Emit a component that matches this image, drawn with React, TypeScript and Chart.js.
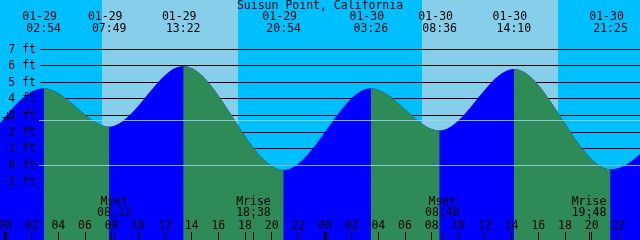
import React, { useEffect, useRef } from 'react';
import { Chart, registerables } from 'chart.js';

Chart.register(...registerables);

const chartTitle = 'Suisun Point, California';
const dayNames = ['01-29', '01-30'];

// Tide extremes (high / low) shown at the top
const eventDates = ['01-29', '01-29', '01-29', '01-29', '01-30', '01-30', '01-30', '01-30'];
const eventTimes = ['02:54', '07:49', '13:22', '20:54', '03:26', '08:36', '14:10', '21:25'];
const eventHeights = [4.64, 2.33, 5.98, -0.28, 4.65, 2.1, 5.8, -0.24];

// Extremes just outside the visible window (estimated)
const priorHour = -2.9;
const priorHeight = 0.0;
const nextHour = 52.0;
const nextHeight = 4.7;

// Daylight
const sunDates = ['01-29', '01-30'];
const sunrises = ['07:17', '07:17'];
const sunsets = ['17:29', '17:29'];

// Moon events
const moonNames = ['Mset', 'Mrise', 'Mset', 'Mrise'];
const moonDates = ['01-29', '01-29', '01-30', '01-30'];
const moonTimes = ['08:12', '18:38', '08:48', '19:48'];

// Axes
const yTickValues = [7, 6, 5, 4, 3, 2, 1, 0, -1];
const xTickLabels = [
  '00', '02', '04', '06', '08', '10', '12', '14', '16', '18', '20', '22',
  '00', '02', '04', '06', '08', '10', '12', '14', '16', '18', '20', '22',
];
const datumLevels = [0, 2.72];

const xMin = -0.375;
const xMax = 47.625;
const yMin = -4.5;
const yMax = 9.96;

const FONT = '11.5px "DejaVu Sans Mono", "Liberation Mono", monospace';

function toHour(date: string, time: string): number {
  const d = dayNames.indexOf(date);
  const [h, m] = time.split(':').map(Number);
  return d * 24 + h + m / 60;
}

const decorPlugin = {
  id: 'tideDecor',
  beforeDatasetsDraw(chart: any) {
    const { ctx, scales } = chart;
    const x = scales.x;
    const y = scales.y;
    const W = chart.width;
    const H = chart.height;
    ctx.save();
    ctx.fillStyle = '#00BFFF';
    ctx.fillRect(0, 0, W, H);
    ctx.fillStyle = '#87CEEB';
    sunDates.forEach((d, i) => {
      const x1 = Math.round(x.getPixelForValue(toHour(d, sunrises[i])));
      const x2 = Math.round(x.getPixelForValue(toHour(d, sunsets[i])));
      ctx.fillRect(x1, 0, x2 - x1, H);
    });
    ctx.fillStyle = '#000000';
    yTickValues.forEach((v) => {
      const py = Math.floor(y.getPixelForValue(v));
      ctx.fillRect(40, py, W - 40, 1);
    });
    ctx.restore();
  },
  afterDatasetsDraw(chart: any) {
    const { ctx, scales } = chart;
    const x = scales.x;
    const y = scales.y;
    const W = chart.width;
    ctx.save();
    // datum lines
    ctx.fillStyle = 'rgba(150,215,235,0.85)';
    datumLevels.forEach((v) => {
      const py = Math.floor(y.getPixelForValue(v));
      ctx.fillRect(39, py, W - 39, 1);
    });

    ctx.font = FONT;
    ctx.fillStyle = '#000000';
    ctx.textBaseline = 'middle';

    // title
    ctx.textAlign = 'center';
    ctx.fillText(chartTitle, 320, 6);

    // tide event labels
    eventTimes.forEach((t, i) => {
      const px = x.getPixelForValue(toHour(eventDates[i], t));
      ctx.textAlign = 'center';
      ctx.fillText(eventDates[i], px - 4, 17);
      ctx.fillText(t, px, 29);
    });

    // y labels
    ctx.textAlign = 'right';
    yTickValues.forEach((v) => {
      const py = y.getPixelForValue(v);
      ctx.fillText(`${v} ft`, 36, py + 0.5);
    });

    // current marker
    ctx.fillRect(2, 117, 11, 1);
    ctx.fillRect(7, 112, 1, 10);

    // x tick labels and ticks
    ctx.textAlign = 'center';
    xTickLabels.forEach((lab, i) => {
      const px = x.getPixelForValue(i * 2);
      ctx.fillText(lab, px, 226);
      if (lab === '00') {
        ctx.fillRect(Math.floor(px) - 1, 232, 3, 8);
      } else {
        ctx.fillRect(Math.floor(px), 232, 1, 8);
      }
    });

    // moon events
    moonNames.forEach((name, i) => {
      const px = x.getPixelForValue(toHour(moonDates[i], moonTimes[i]));
      ctx.fillText(name, px, 202);
      ctx.fillText(moonTimes[i], px, 213);
      ctx.fillRect(Math.floor(px), 214, 1, 5);
      ctx.fillRect(Math.floor(px), 232, 1, 8);
    });
    ctx.restore();
  },
};

export default function App() {
  const canvasRef = useRef<HTMLCanvasElement | null>(null);

  useEffect(() => {
    const canvas = canvasRef.current;
    if (!canvas) return;
    const points = [
      { x: priorHour, y: priorHeight },
      ...eventTimes.map((t, i) => ({ x: toHour(eventDates[i], t), y: eventHeights[i] })),
      { x: nextHour, y: nextHeight },
    ];
    const chart = new Chart(canvas, {
      type: 'line',
      data: {
        datasets: [
          // falling tide (green) drawn on top
          {
            data: points,
            fill: 'start',
            borderWidth: 0,
            borderColor: 'rgba(0,0,0,0)',
            pointRadius: 0,
            cubicInterpolationMode: 'monotone',
            backgroundColor: '#2E8B57',
            order: 0,
            segment: {
              backgroundColor: (c: any) => (c.p0.parsed.y > c.p1.parsed.y ? '#2E8B57' : 'rgba(0,0,0,0)'),
            },
          } as any,
          // whole water body (blue) underneath
          {
            data: points,
            fill: 'start',
            borderWidth: 0,
            borderColor: 'rgba(0,0,0,0)',
            pointRadius: 0,
            cubicInterpolationMode: 'monotone',
            backgroundColor: '#0000FF',
            order: 1,
          } as any,
        ],
      },
      options: {
        animation: false,
        responsive: false,
        events: [],
        layout: { padding: 0 },
        plugins: {
          legend: { display: false },
          tooltip: { enabled: false },
        },
        scales: {
          x: { type: 'linear', min: xMin, max: xMax, display: false },
          y: { type: 'linear', min: yMin, max: yMax, display: false },
        },
      },
      plugins: [decorPlugin],
    });
    return () => chart.destroy();
  }, []);

  return (
    <div style={{ position: 'absolute', left: 0, top: 0, width: 640, height: 240 }}>
      <canvas ref={canvasRef} width={640} height={240} style={{ display: 'block' }} />
    </div>
  );
}
